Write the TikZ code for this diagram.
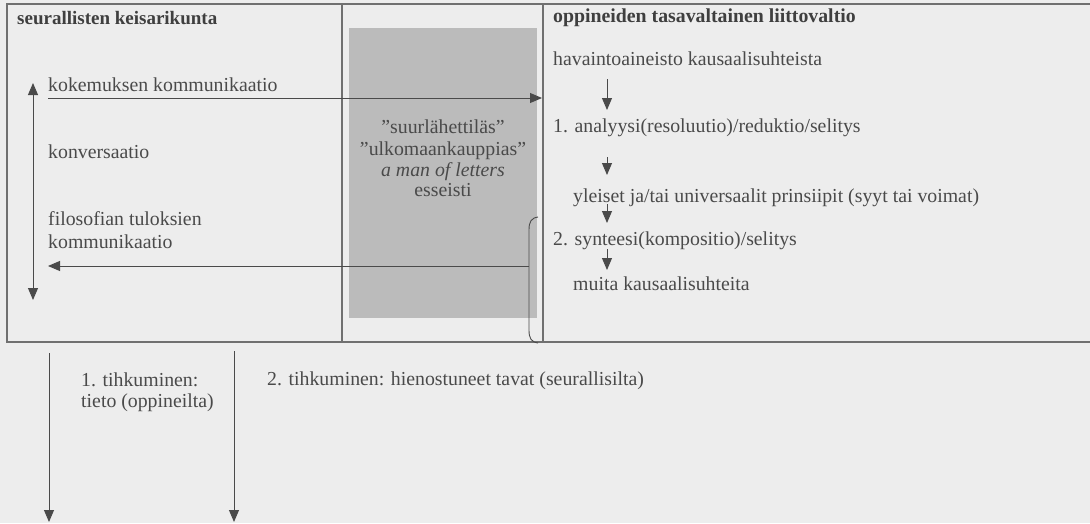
\documentclass[tikz,border=0pt]{standalone}
\usepackage{fontspec}
\setmainfont{Liberation Serif}
\usetikzlibrary{arrows.meta}
\definecolor{bg}{HTML}{EDEDED}
\definecolor{ink}{HTML}{4A4A4A}
\definecolor{rulec}{HTML}{707070}
\definecolor{colfill}{HTML}{BBBBBB}
\begin{document}
\begin{tikzpicture}[x=1pt,y=-1pt,
  txt/.style={inner sep=0pt, anchor=base west, text=ink, font=\fontsize{19.8}{22}\selectfont},
  btxt/.style={txt, font=\fontsize{19.8}{22}\selectfont\bfseries, text=ink!85!black},
  ctxt/.style={txt, anchor=base},
  frameline/.style={draw=rulec, line width=1.2pt},
  arr/.style={draw=ink, line width=0.9pt, -{Triangle[length=12pt,width=10pt]}},
  dblarr/.style={draw=ink, line width=0.9pt, {Triangle[length=12pt,width=10pt]}-{Triangle[length=12pt,width=10pt]}},
]
\useasboundingbox (0,0) rectangle (1090,523);
\fill[bg] (0,0) rectangle (1090,523);

% shaded column
\fill[colfill] (349,28) rectangle (537,318);

% frame
\draw[frameline] (1090,4) -- (7,4) -- (7,342) -- (1090,342);
\draw[frameline] (342,4) -- (342,342);
\draw[frameline] (543,4) -- (543,342);

% left column
\node[btxt, font=\fontsize{19}{22}\selectfont\bfseries] (lt) at (17,24) {seurallisten keisarikunta};
\node[txt] (kok) at (48,91) {kokemuksen kommunikaatio};
\node[txt] (konv) at (48,158) {konversaatio};
\node[txt] (filo1) at (48,225) {filosofian tuloksien};
\node[txt] (filo2) at (48,248) {kommunikaatio};
\coordinate (vtop) at (33,83);
\coordinate (vbot) at (33,300);
\draw[dblarr] (vtop) -- (vbot);

% middle column
\node[ctxt] (m1) at (443,133) {”suurlähettiläs”};
\node[ctxt] (m2) at (443,155) {”ulkomaankauppias”};
\node[ctxt, font=\fontsize{19.8}{22}\selectfont\itshape] (m3) at (443,176) {a man of letters};
\node[ctxt] (m4) at (443,196) {esseisti};

% right column
\node[btxt] (rt) at (553,22) {oppineiden tasavaltainen liittovaltio};
\node[txt] (hav) at (553,65) {havaintoaineisto kausaalisuhteista};
\node[txt] (ana) at (553,132) {1. analyysi(resoluutio)/reduktio/selitys};
\node[txt] (yle) at (573,202) {yleiset ja/tai universaalit prinsiipit (syyt tai voimat)};
\node[txt] (syn) at (553,245) {2. synteesi(kompositio)/selitys};
\node[txt] (mui) at (573,290) {muita kausaalisuhteita};

\coordinate (a1s) at (607,79);  \coordinate (a1e) at (607,110);
\coordinate (a2s) at (607,157); \coordinate (a2e) at (607,175);
\coordinate (a3s) at (607,204); \coordinate (a3e) at (607,223);
\coordinate (a4s) at (607,249); \coordinate (a4e) at (607,270);
\draw[arr] (a1s) -- (a1e);
\draw[arr] (a2s) -- (a2e);
\draw[arr] (a3s) -- (a3e);
\draw[arr] (a4s) -- (a4e);

% communication arrows
\coordinate (kokstart) at (48,98);
\coordinate (kokend) at (542,98);
\draw[arr] (kokstart) -- (kokend);

\draw[draw=ink, line width=0.9pt] (538,217) .. controls (531,218) and (529,222) .. (529,230)
  -- (529,330) .. controls (529,338) and (531,342) .. (538,343);
\coordinate (brk) at (529,266);
\coordinate (filoend) at (48,266);
\draw[arr] (brk) -- (filoend);

% bottom
\coordinate (d1s) at (49,353); \coordinate (d1e) at (49,522);
\coordinate (d2s) at (234,351); \coordinate (d2e) at (234,522);
\draw[arr] (d1s) -- (d1e);
\draw[arr] (d2s) -- (d2e);
\node[txt] (t1a) at (81,386) {1. tihkuminen:};
\node[txt] (t1b) at (81,407) {tieto (oppineilta)};
\node[txt] (t2) at (267,385) {2. tihkuminen: hienostuneet tavat (seurallisilta)};
\end{tikzpicture}
\end{document}
